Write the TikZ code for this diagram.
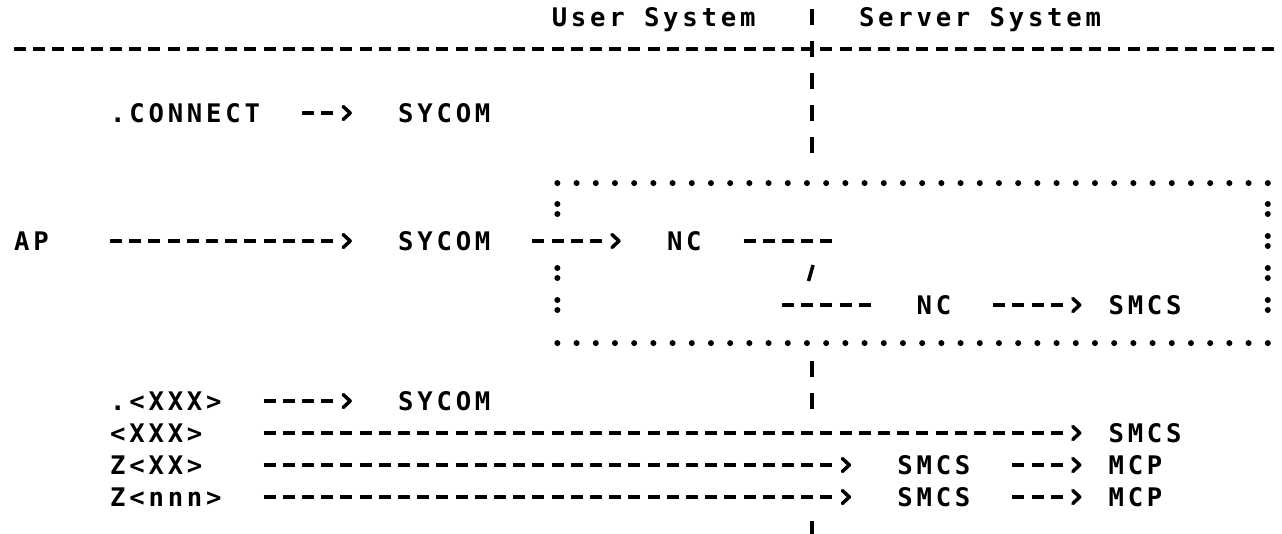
\documentclass[tikz,border=0pt]{standalone}
\usepackage{fontspec}
\newfontfamily\dotfont[LetterSpace=14.8]{DejaVu Sans Mono}
\usetikzlibrary{arrows.meta,calc,decorations.markings}
\begin{document}
\begin{tikzpicture}[x=19.2pt,y=-32pt,
  txt/.style={anchor=west,inner sep=0pt,text height=18.7pt,text depth=0pt,
    font=\dotfont\bfseries\fontsize{25.6pt}{25.6pt}\selectfont},
  dashline/.style={line width=3.5pt,dash pattern=on 12pt off 7.2pt},
  arr/.style={dashline,postaction={decorate},
    decoration={markings,mark=at position 1 with {\arrow[xshift=18.7pt]{Straight Barb[length=7pt,width=13pt,round]}}}},
  divider/.style={line width=4.5pt,dash pattern=on 16pt off 16pt},
  dotrow/.style={line width=6pt,line cap=round,dash pattern=on 0pt off 19.2pt},
  slashstroke/.style={line width=3.5pt}
]
\useasboundingbox (-0.72917,-0.53125) rectangle (66.04167,16.125);

% header and rules
\node[txt] (huser) at (28,0) {User System};
\node[txt] (hserver) at (44,0) {Server System};
\draw[dashline] (0,1) -- (65.625,1);
\draw[divider] (41.55,-0.25) -- (41.55,4.25);
\draw[divider] (41.55,10.75) -- (41.55,12.25);
\draw[divider] (41.55,15.75) -- (41.55,16.25);

% dotted box
\draw[dotrow] (28.3,5.19) -- (65.35,5.19);
\draw[dotrow] (28.3,10.19) -- (65.35,10.19);
\foreach \c/\r in {28.3/6,28.3/8,28.3/9,65.3/6,65.3/7,65.3/8,65.3/9}{
  \fill (\c,\r-0.156) circle (3pt);
  \fill (\c,\r+0.156) circle (3pt);
}

% text nodes
\node[txt] (connect) at (5,3) {.CONNECT};
\node[txt] (sycom1) at (20,3) {SYCOM};
\node[txt] (ap) at (0,7) {AP};
\node[txt] (sycom2) at (20,7) {SYCOM};
\node[txt] (nc1) at (34,7) {NC};
\node[txt] (nc2) at (47,9) {NC};
\node[txt] (smcs1) at (57,9) {SMCS};
\node[txt] (dotxxx) at (5,12) {.<XXX>};
\node[txt] (sycom3) at (20,12) {SYCOM};
\node[txt] (xxx) at (5,13) {<XXX>};
\node[txt] (smcs2) at (57,13) {SMCS};
\node[txt] (zxx) at (5,14) {Z<XX>};
\node[txt] (smcs3) at (46,14) {SMCS};
\node[txt] (mcp1) at (57,14) {MCP};
\node[txt] (znnn) at (5,15) {Z<nnn>};
\node[txt] (smcs4) at (46,15) {SMCS};
\node[txt] (mcp2) at (57,15) {MCP};

% connectors
\draw[arr] ($(connect.west)+(10,0)$) -- ($(sycom1.west)+(-3.375,0)$);
\draw[arr] ($(ap.west)+(5,0)$) -- ($(sycom2.west)+(-3.375,0)$);
\draw[arr] ($(sycom2.west)+(7,0)$) -- ($(nc1.west)+(-3.375,0)$);
\coordinate (j1) at (42.625,7);
\coordinate (j2) at (40,9);
\draw[dashline] ($(nc1.west)+(4,0)$) -- (j1);
\draw[slashstroke] (41.38,8.25) -- (41.62,7.75);
\draw[dashline] (j2) -- ($(nc2.west)+(-2.375,0)$);
\draw[arr] ($(nc2.west)+(4,0)$) -- ($(smcs1.west)+(-2.375,0)$);
\draw[arr] ($(dotxxx.west)+(8,0)$) -- ($(sycom3.west)+(-3.375,0)$);
\draw[arr] ($(xxx.west)+(8,0)$) -- ($(smcs2.west)+(-2.375,0)$);
\draw[arr] ($(zxx.west)+(8,0)$) -- ($(smcs3.west)+(-3.375,0)$);
\draw[arr] ($(smcs3.west)+(6,0)$) -- ($(mcp1.west)+(-2.375,0)$);
\draw[arr] ($(znnn.west)+(8,0)$) -- ($(smcs4.west)+(-3.375,0)$);
\draw[arr] ($(smcs4.west)+(6,0)$) -- ($(mcp2.west)+(-2.375,0)$);
\end{tikzpicture}
\end{document}
